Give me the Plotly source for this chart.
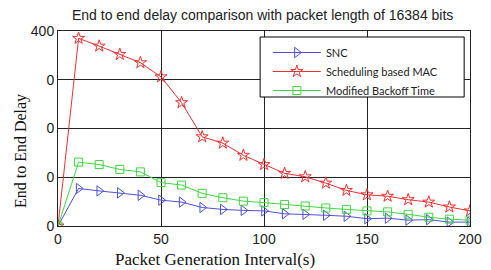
import plotly.graph_objects as go

x_vals = [0, 10, 20, 30, 40, 50, 60, 70, 80, 90, 100, 110, 120, 130, 140, 150, 160, 170, 180, 190, 200]
snc = [0, 77, 72, 68, 63, 53, 49, 38, 34, 32, 31, 25, 24, 22, 20, 15, 16, 12, 13, 8, 8]
sched_mac = [0, 385, 369, 352, 335, 306, 253, 183, 170, 145, 126, 108, 101, 88, 73, 64, 61, 54, 49, 39, 31]
mod_backoff = [0, 131, 126, 116, 111, 89, 84, 67, 58, 51, 48, 44, 41, 37, 34, 31, 29, 24, 18, 14, 12]

x_ticks = [0, 50, 100, 150, 200]
x_tick_text = ["0", "50", "100", "150", "200"]
y_ticks = [0, 100, 200, 300, 400]
y_tick_text = ["0", "0", "0", "0", "400"]

title_text = "End to end delay comparison with packet length of 16384 bits"
x_title = "Packet Generation Interval(s)"
y_title = "End to End Delay"

fig = go.Figure()
fig.add_trace(go.Scatter(x=x_vals, y=snc, name="SNC", mode="lines+markers",
                         line=dict(color="#5050d8", width=1),
                         marker=dict(symbol="triangle-right-open", size=9, color="#5050d8", line=dict(width=1))))
fig.add_trace(go.Scatter(x=x_vals, y=sched_mac, name="Scheduling based MAC", mode="lines+markers",
                         line=dict(color="#ee3030", width=1),
                         marker=dict(symbol="star-open", size=9, color="#ee3030", line=dict(width=1))))
fig.add_trace(go.Scatter(x=x_vals, y=mod_backoff, name="Modified Backoff Time", mode="lines+markers",
                         line=dict(color="#40d840", width=1),
                         marker=dict(symbol="square-open", size=8, color="#40d840", line=dict(width=1))))

L, R, T, B = 58, 9, 31, 44
W, H = 491, 270
pw = W - L - R
ph = H - T - B

def px_x(p):
    return (p - L) / pw

def px_y(p):
    return (H - B - p) / ph

fig.update_layout(
    width=W, height=H,
    margin=dict(l=L, r=R, t=T, b=B, pad=0),
    paper_bgcolor="white", plot_bgcolor="white",
    showlegend=True,
    legend=dict(x=px_x(274), y=px_y(38), xanchor="left", yanchor="top",
                bgcolor="rgba(0,0,0,0)", borderwidth=0,
                font=dict(family="Lato", size=11, color="#222"),
                tracegroupgap=0, itemwidth=48),
    shapes=[dict(type="rect", xref="paper", yref="paper",
                 x0=px_x(266), x1=px_x(476), y0=px_y(97), y1=px_y(37),
                 line=dict(color="black", width=1), fillcolor="white", layer="above")],
    annotations=[
        dict(text=title_text, xref="paper", yref="paper", x=px_x(268), y=px_y(15),
             xanchor="center", yanchor="middle", showarrow=False,
             font=dict(family="Liberation Sans", size=14, color="#222")),
        dict(text=x_title, xref="paper", yref="paper", x=px_x(220), y=px_y(259),
             xanchor="center", yanchor="middle", showarrow=False,
             font=dict(family="Liberation Serif", size=17, color="#111")),
        dict(text=y_title, xref="paper", yref="paper", x=px_x(20), y=px_y(151),
             xanchor="center", yanchor="middle", showarrow=False, textangle=-90,
             font=dict(family="Liberation Serif", size=16, color="#111")),
    ],
)
fig.update_xaxes(range=[0, 200], tickvals=x_ticks, ticktext=x_tick_text,
                 showgrid=True, gridcolor="#222", gridwidth=1,
                 showline=True, linecolor="#222", linewidth=1, mirror="ticks",
                 ticks="inside", ticklen=3, tickcolor="#222", zeroline=False,
                 ticklabeloverflow="allow",
                 tickfont=dict(family="Liberation Sans", size=14, color="#222"))
fig.update_yaxes(range=[0, 400], tickvals=y_ticks, ticktext=y_tick_text,
                 showgrid=True, gridcolor="#222", gridwidth=1,
                 showline=True, linecolor="#222", linewidth=1, mirror="ticks",
                 ticks="inside", ticklen=3, tickcolor="#222", zeroline=False,
                 tickfont=dict(family="Liberation Sans", size=14, color="#222"))

fig.write_html("out.html", config={"displayModeBar": False},
               post_script="document.body.style.margin='0';document.body.style.overflow='hidden';")
